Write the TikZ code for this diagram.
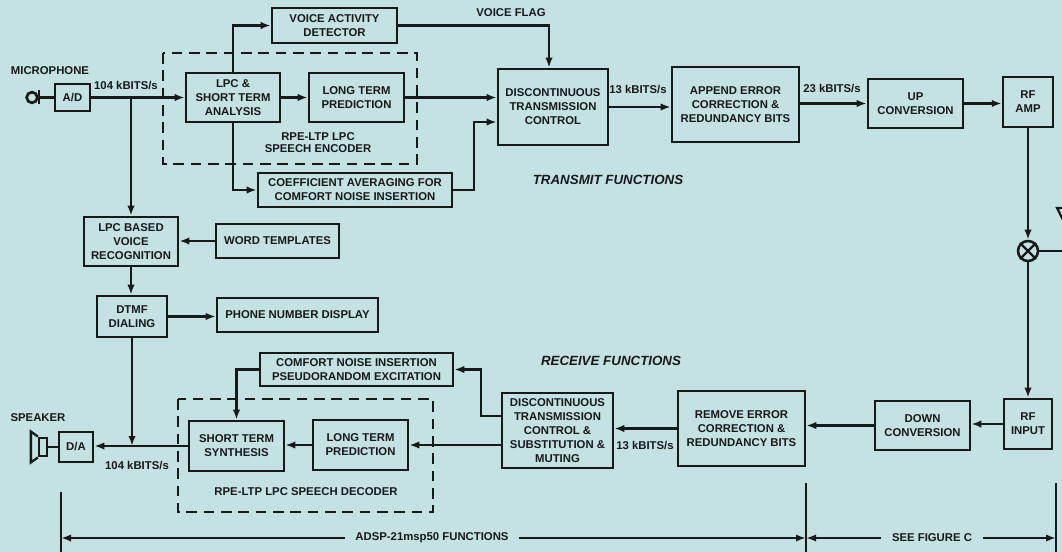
\documentclass[tikz,border=0pt]{standalone}
\usepackage{fontspec}
\setmainfont{Liberation Sans}
\usetikzlibrary{arrows.meta,calc}
\definecolor{bgc}{RGB}{196,226,228}
\definecolor{ink}{RGB}{25,25,25}
\tikzset{
 box/.style={draw=ink, line width=1.9pt, inner sep=0pt, align=center, font=\bfseries\fontsize{8.5}{10.5}\selectfont, text=ink},
 arr/.style={draw=ink, line width=1.7pt, -{Latex[length=7.5pt,width=5.5pt]}},
 ln/.style={draw=ink, line width=1.7pt},
 lbl/.style={font=\bfseries\fontsize{8.5}{10}\selectfont, text=ink, inner sep=1pt, align=center},
 ttl/.style={font=\bfseries\itshape\fontsize{10}{12}\selectfont, text=ink},
 dsh/.style={draw=ink, line width=1.8pt, dash pattern=on 8pt off 5pt},
}
\newcommand\bx[6]{\node[box, minimum width={(#4-#2)*0.75pt}, minimum height={(#5-#3)*0.75pt}] (#1) at ({(#2+#4)/2},{(#3+#5)/2}) {#6};}
\begin{document}
\begin{tikzpicture}[x=0.75pt,y=-0.75pt]
\fill[bgc] (0,0) rectangle (1062,552);
\useasboundingbox (0,0) rectangle (1062,552);
\clip (0,0) rectangle (1062,552);

% dashed groups
\draw[dsh] (163,53) rectangle (417,164);
\draw[dsh] (178,399) rectangle (433,512);

% transmit boxes
\bx{ad}{55}{84}{90}{111}{A/D}
\bx{vad}{272}{8}{397}{43}{VOICE ACTIVITY\\DETECTOR}
\bx{lpc}{186}{73}{280}{122}{LPC \&\\SHORT TERM\\ANALYSIS}
\bx{ltpe}{309}{73}{404}{122}{LONG TERM\\PREDICTION}
\bx{coef}{258}{173}{452}{207}{COEFFICIENT AVERAGING FOR\\COMFORT NOISE INSERTION}
\bx{dtc}{498}{69}{608}{145}{DISCONTINUOUS\\TRANSMISSION\\CONTROL}
\bx{app}{672}{67}{799}{142}{APPEND ERROR\\CORRECTION \&\\REDUNDANCY BITS}
\bx{up}{868}{79}{963}{128}{UP\\CONVERSION}
\bx{rfamp}{1003}{77}{1053}{127}{RF\\AMP}

% voice recognition
\bx{lvr}{84}{217}{178}{266}{LPC BASED\\VOICE\\RECOGNITION}
\bx{wt}{216}{224}{339}{258}{WORD TEMPLATES}
\bx{dtmf}{97}{296}{167}{337}{DTMF\\DIALING}
\bx{phone}{217}{298}{378}{332}{PHONE NUMBER DISPLAY}

% receive boxes
\bx{rfin}{1004}{399}{1052}{449}{RF\\INPUT}
\bx{down}{875}{401}{970}{450}{DOWN\\CONVERSION}
\bx{rem}{678}{391}{805}{466}{REMOVE ERROR\\CORRECTION \&\\REDUNDANCY BITS}
\bx{dtcs}{502}{393}{613}{468}{\fontsize{8.5}{10}\selectfont DISCONTINUOUS\\TRANSMISSION\\CONTROL \&\\SUBSTITUTION \&\\MUTING}
\bx{cni}{260}{353}{453}{386}{COMFORT NOISE INSERTION\\PSEUDORANDOM EXCITATION}
\bx{sts}{189}{421}{284}{471}{SHORT TERM\\SYNTHESIS}
\bx{ltpd}{313}{420}{408}{470}{LONG TERM\\PREDICTION}
\bx{da}{59}{432}{93}{462}{D/A}

% mixer
\node[circle, draw=ink, line width=1.9pt, minimum size=15pt, inner sep=0pt] (mix) at (1028,251) {};
\draw[ln] (mix.north east) -- (mix.south west);
\draw[ln] (mix.north west) -- (mix.south east);
\coordinate (edgeR) at (1062,251);
\draw[ln] (mix.east) -- (edgeR);
\draw[ln] (1057,208) -- (1080,208) -- (1068,230) -- cycle;

% microphone
\node[circle, draw=ink, line width=2pt, minimum size=8pt, inner sep=0pt] (mic) at (32,97.5) {};
\draw[ln] ($(mic.east)+(0,-7)$) -- ($(mic.east)+(0,7)$);
\draw[ln] (mic.east) -- (ad.west);

% speaker
\node[draw=ink, line width=1.7pt, minimum width=6pt, minimum height=14pt, inner sep=0pt] (spk) at (43,447) {};
\draw[ln] (spk.north west) -- ++(-7,-5) -- ($(spk.south west)+(-7,5)$) -- (spk.south west);
\draw[ln] (spk.east) -- (da.west);

% labels
\node[lbl] (micl) at (50,71) {MICROPHONE};
\node[lbl] (r1) at (126,86) {104 kBITS/s};
\node[lbl] (vfl) at (511,13) {VOICE FLAG};
\node[lbl, font=\bfseries\fontsize{8.5}{9}\selectfont] (encl) at (318,143) {RPE-LTP LPC\\SPEECH ENCODER};
\node[lbl] (r2) at (638,90) {13 kBITS/s};
\node[lbl] (r3) at (832,89) {23 kBITS/s};
\node[ttl] (tx) at (608,180) {TRANSMIT FUNCTIONS};
\node[ttl] (rx) at (611,361) {RECEIVE FUNCTIONS};
\node[lbl] (r4) at (645,446) {13 kBITS/s};
\node[lbl] (decl) at (306,492) {RPE-LTP LPC SPEECH DECODER};
\node[lbl] (spkl) at (38,418) {SPEAKER};
\node[lbl] (r5) at (137,466) {104 kBITS/s};
\node[lbl, inner xsep=8pt] (adsp) at (432,538) {ADSP-21msp50 FUNCTIONS};
\node[lbl, inner xsep=8pt] (seef) at (932,538) {SEE FIGURE C};

% transmit connectors
\draw[arr] (ad.east) -- (ad.east -| lpc.west);
\coordinate (j1) at (lvr.north |- ad.east);
\draw[arr] (j1) -- (lvr.north);
\draw[arr] (lpc.east) -- (lpc.east -| ltpe.west);
\draw[arr] (lpc.north) |- (vad.west);
\draw[arr] (lpc.south) |- (coef.west);
\coordinate (vf) at (549,0);
\draw[arr] (vad.east) -| (vf |- dtc.north);
\draw[arr] (ltpe.east) -- (ltpe.east -| dtc.west);
\coordinate (c1) at (474,122);
\draw[arr] (coef.east) -| (c1) -- (c1 -| dtc.west);
\draw[arr] (dtc.east) -- (dtc.east -| app.west);
\draw[arr] (up.west -| app.east) -- (up.west);
\draw[arr] (up.east) -- (up.east -| rfamp.west);
\draw[arr] (rfamp.south) -- (mix.north);
\draw[arr] (mix.south) -- (rfin.north);

% voice recognition connectors
\draw[arr] (wt.west) -- (wt.west -| lvr.east);
\draw[arr] (lvr.south) -- (lvr.south |- dtmf.north);
\draw[arr] (dtmf.east) -- (dtmf.east -| phone.west);
\coordinate (j2) at (dtmf.south |- sts.west);
\draw[arr] (dtmf.south) -- (j2);

% receive connectors
\draw[arr] (rfin.west) -- (rfin.west -| down.east);
\draw[arr] (down.west) -- (down.west -| rem.east);
\draw[arr] (rem.west) -- (rem.west -| dtcs.east);
\coordinate (d1) at (481,416);
\draw[arr] (d1 -| dtcs.west) -- (d1) |- (cni.east);
\draw[arr] (dtcs.west |- ltpd.east) -- (ltpd.east);
\draw[arr] (ltpd.west) -- (ltpd.west -| sts.east);
\draw[arr] (cni.west) -| (sts.north);
\draw[arr] (sts.west) -- (sts.west -| da.east);

% bottom extent markers
\coordinate (bl0) at (61,492); \coordinate (bl1) at (61,552);
\coordinate (bm0) at (806,483); \coordinate (bm1) at (806,552);
\coordinate (br0) at (1056,483); \coordinate (br1) at (1056,552);
\draw[ln] (bl0) -- (bl1);
\draw[ln] (bm0) -- (bm1);
\draw[ln] (br0) -- (br1);
\coordinate (bl) at (61,538);
\coordinate (bm) at (806,538);
\coordinate (br) at (1056,538);
\draw[arr] (adsp.west) -- (bl);
\draw[arr] (adsp.east) -- (bm);
\draw[arr] (seef.west) -- (bm);
\draw[arr] (seef.east) -- (br);
\end{tikzpicture}
\end{document}
